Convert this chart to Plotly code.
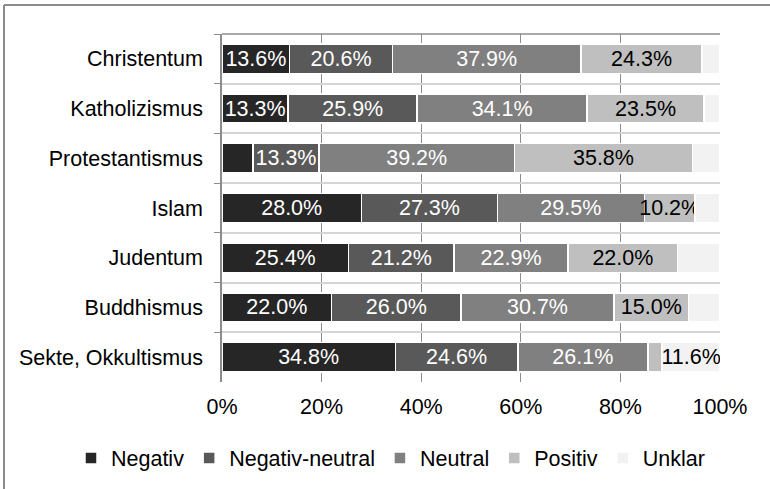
import plotly.graph_objects as go

# Religions / worldviews, top to bottom
categories = ["Christentum", "Katholizismus", "Protestantismus", "Islam",
              "Judentum", "Buddhismus", "Sekte, Okkultismus"]

# Share of ratings per category (percent)
negativ = [13.6, 13.3, 6.2, 28.0, 25.4, 22.0, 34.8]
negativ_neutral = [20.6, 25.9, 13.3, 27.3, 21.2, 26.0, 24.6]
neutral = [37.9, 34.1, 39.2, 29.5, 22.9, 30.7, 26.1]
positiv = [24.3, 23.5, 35.8, 10.2, 22.0, 15.0, 2.9]
unklar = [3.6, 3.2, 5.5, 5.0, 8.5, 6.3, 11.6]

# Which segments carry a value label
show_negativ = [True, True, False, True, True, True, True]
show_negativ_neutral = [True] * 7
show_neutral = [True] * 7
show_positiv = [True, True, True, True, True, True, False]
show_unklar = [False, False, False, False, False, False, True]

x_ticks = [0, 20, 40, 60, 80, 100]

FONT = "Liberation Sans, Arial, sans-serif"
FS = 21.5

series = [
    ("Negativ", negativ, show_negativ, "#262626", "white"),
    ("Negativ-neutral", negativ_neutral, show_negativ_neutral, "#595959", "white"),
    ("Neutral", neutral, show_neutral, "#808080", "white"),
    ("Positiv", positiv, show_positiv, "#bfbfbf", "black"),
    ("Unklar", unklar, show_unklar, "#f2f2f2", "black"),
]

fig = go.Figure()
for name, vals, shows, color, tcolor in series:
    fig.add_trace(go.Bar(
        name=name,
        y=categories,
        x=vals,
        orientation="h",
        marker=dict(color=color, line=dict(color="white", width=1.5)),
        text=[f"{v:.1f}%" if s else "" for v, s in zip(vals, shows)],
        textposition="inside",
        insidetextanchor="middle",
        constraintext="none",
        textfont=dict(family=FONT, size=FS, color=tcolor),
        hoverinfo="skip",
    ))

W, H = 770, 489
ML, MR, MT, MB = 222, 50, 34, 107
pw = W - ML - MR
ph = H - MT - MB


def px_x(p):
    return (p - ML) / pw


def px_y(p):
    return (H - MB - p) / ph


fig.update_layout(
    width=W,
    height=H,
    barmode="stack",
    bargap=0.41,
    margin=dict(l=ML, r=MR, t=MT, b=MB, pad=0, autoexpand=False),
    paper_bgcolor="white",
    plot_bgcolor="white",
    font=dict(family=FONT, size=FS, color="black"),
    xaxis=dict(
        range=[0, 100],
        tickvals=x_ticks,
        ticktext=[f"{t}%" for t in x_ticks],
        showgrid=True,
        gridcolor="#8c8c8c",
        gridwidth=1,
        zeroline=False,
        showline=False,
        ticks="",
        ticklabelstandoff=9,
        tickfont=dict(family=FONT, size=FS, color="black"),
        fixedrange=True,
    ),
    yaxis=dict(
        autorange="reversed",
        tickson="boundaries",
        ticks="outside",
        ticklen=6,
        tickcolor="#8c8c8c",
        showline=True,
        linecolor="#8c8c8c",
        linewidth=1.5,
        showgrid=True,
        gridcolor="#d4d4d4",
        gridwidth=2,
        ticklabelstandoff=13,
        tickfont=dict(family=FONT, size=FS, color="black"),
        fixedrange=True,
    ),
    legend=dict(
        orientation="h",
        x=px_x(71),
        xanchor="left",
        y=px_y(458),
        yanchor="middle",
        font=dict(family=FONT, size=FS, color="black"),
        itemwidth=30,
        traceorder="normal",
        bgcolor="rgba(0,0,0,0)",
    ),
    shapes=[
        # frame around the chart (top and left edges)
        dict(type="line", xref="paper", yref="paper",
             x0=px_x(4), x1=px_x(770), y0=px_y(5), y1=px_y(5),
             line=dict(color="#8c8c8c", width=2)),
        dict(type="line", xref="paper", yref="paper",
             x0=px_x(4), x1=px_x(4), y0=px_y(5), y1=px_y(489),
             line=dict(color="#8c8c8c", width=2)),
        # top boundary of the plotting area
        dict(type="line", xref="paper", yref="paper",
             x0=0, x1=1, y0=1, y1=1,
             line=dict(color="#8c8c8c", width=1.5)),
    ],
    showlegend=True,
)

fig.write_html("out.html")
